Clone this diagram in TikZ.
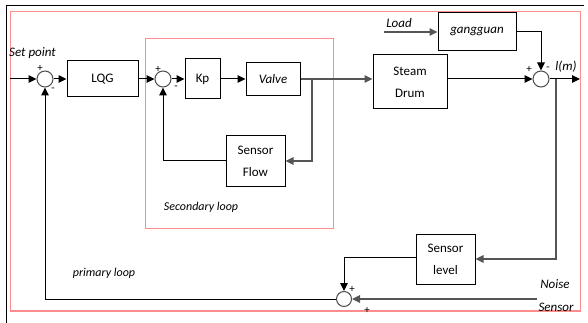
\documentclass[tikz,border=0pt]{standalone}
\usepackage{fontspec}
\setmainfont{Carlito}
\usetikzlibrary{arrows.meta}
\definecolor{pinkline}{RGB}{255,140,140}
\definecolor{grayline}{RGB}{85,85,85}
\tikzset{
  blk/.style={draw=black, line width=1pt, rectangle, inner sep=0pt, align=center, font=\fontsize{13}{22}\selectfont},
  sumc/.style={draw=black!70, line width=1pt, circle, inner sep=0pt, minimum size=16pt},
  conn/.style={draw=black, line width=1pt, -{Triangle[length=8pt,width=7.5pt]}},
  gconn/.style={conn, draw=grayline, line width=1.2pt},
  lbl/.style={inner sep=0pt, font=\fontsize{13}{15}\selectfont\itshape},
  loopl/.style={inner sep=0pt, font=\fontsize{12}{14}\selectfont\itshape},
  sgn/.style={inner sep=0pt, font=\fontsize{11}{12}\selectfont},
}
\begin{document}
\begin{tikzpicture}[x=1pt,y=-1pt]
\useasboundingbox (0,0) rectangle (588,323);
% frames
\draw[black, line width=1pt] (6,323) -- (6,6) -- (584,6);
\draw[pinkline, line width=1.2pt] (10.5,11.5) rectangle (580.5,311);
\draw[pinkline, line width=1.2pt] (145.5,38.5) rectangle (333.5,228.5);

% blocks
\node[sumc] (s1) at (45,79) {};
\node[blk, minimum width=71pt, minimum height=36pt] (lqg) at (102.5,79) {LQG};
\node[sumc] (s2) at (163,79) {};
\node[blk, minimum width=35pt, minimum height=40pt] (kp) at (202.5,79) {Kp};
\node[blk, minimum width=54pt, minimum height=33pt] (valve) at (273,79) {\itshape Valve};
\node[blk, minimum width=74pt, minimum height=54pt] (drum) at (410,82) {Steam\\Drum};
\node[blk, minimum width=59pt, minimum height=50pt] (sflow) at (255.5,161) {Sensor\\Flow};
\node[blk, minimum width=78pt, minimum height=38pt] (gang) at (477,31.5) {\itshape gangguan};
\node[sumc] (s3) at (541,79) {};
\node[blk, minimum width=59pt, minimum height=50pt] (slevel) at (445.5,259) {Sensor\\level};
\node[sumc, minimum size=15pt] (s4) at (344,299) {};

% coordinates
\coordinate (sp) at (10,79);
\coordinate (b1) at (312,79);
\coordinate (ld) at (384,32);
\coordinate (out) at (580,79);
\coordinate (b2) at (556,79);
\coordinate (nz) at (537,299);

% connectors
\draw[conn] (sp) -- (s1.west);
\draw[conn] (s1.east) -- (lqg.west);
\draw[conn] (lqg.east) -- (s2.west);
\draw[conn] (s2.east) -- (kp.west);
\draw[conn] (kp.east) -- (valve.west);
\draw[gconn] (valve.east) -- (drum.west |- valve.east);
\draw[gconn] (b1) |- (sflow.east);
\draw[conn] (sflow.west) -| (s2.south);
\draw[conn] (drum.east |- s3.west) -- (s3.west);
\draw[gconn] (ld) -- (gang.west |- ld);
\draw[conn] (gang.east |- ld) -| (s3.north);
\draw[conn] (s3.east) -- (out);
\draw[gconn] (b2) |- (slevel.east);
\draw[conn] (slevel.west |- 0,257) -| (s4.north);
\draw[gconn] (nz) -- (s4.east);
\draw[conn] (s4.west) -| (s1.south);

% labels
\node[lbl, anchor=west] (tsp) at (9,53) {Set point};
\node[lbl] (tload) at (399,23) {Load};
\node[lbl] (tlm) at (566,67) {l(m)};
\node[lbl] (tnoise) at (555,284) {Noise};
\node[lbl] (tsens) at (556,307) {Sensor};
\node[loopl] (tsec) at (201,207) {Secondary loop};
\node[loopl] (tpri) at (104,273) {primary loop};

% signs
\node[sgn] (p1) at (40,68) {+};
\node[sgn] (m1) at (53,90) {-};
\node[sgn] (p2) at (158,69) {+};
\node[sgn] (m2) at (176,88) {-};
\node[sgn] (p3) at (529,69) {+};
\node[sgn] (m3) at (548,69) {-};
\node[sgn] (p4) at (352,289) {+};
\node[sgn] (p5) at (367,310) {+};
\end{tikzpicture}
\end{document}
